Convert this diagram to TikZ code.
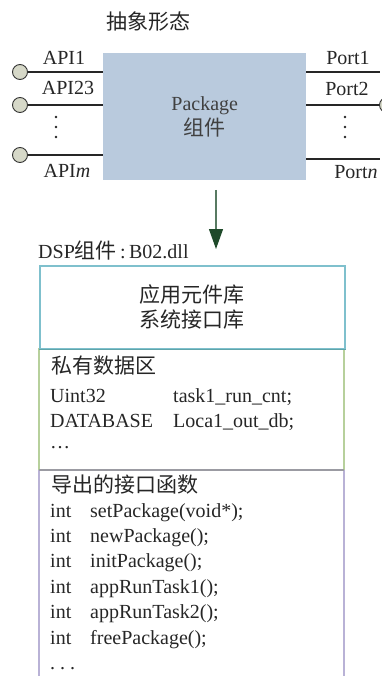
\documentclass[tikz,border=0pt]{standalone}
\usepackage{fontspec}
\setmainfont{Liberation Serif}
\newfontfamily\cjk[Scale=1.05]{Noto Sans CJK SC}
\usetikzlibrary{arrows.meta}

\definecolor{pkgblue}{RGB}{185,202,221}
\definecolor{pinfill}{RGB}{214,216,200}
\definecolor{shaftgreen}{RGB}{88,122,98}
\definecolor{headgreen}{RGB}{31,74,42}
\definecolor{libteal}{RGB}{127,192,205}
\definecolor{libtealdark}{RGB}{95,165,170}
\definecolor{datagreen}{RGB}{183,208,156}
\definecolor{funcpurple}{RGB}{185,178,214}
\definecolor{splitgray}{RGB}{155,155,162}

\begin{document}
\begin{tikzpicture}[x=1pt, y=-1pt,
		every node/.style={font=\fontsize{20}{25}\selectfont, text=black!85, inner sep=0pt},
		pin/.style={draw=black!80, circle, minimum size=15pt, fill=pinfill, line width=0.9pt},
		wire/.style={draw=black!85, line width=1.1pt},
		pkgbox/.style={fill=pkgblue, anchor=north west, minimum width=203pt, minimum height=127pt, align=center, text=black!75},
		arrow/.style={-{Triangle[length=20pt, width=14pt, color=headgreen]}, draw=shaftgreen, line width=1.2pt},
		libsec/.style={draw=libteal, line width=1.5pt, anchor=north west, minimum width=305pt, minimum height=83pt, align=center},
		codeline/.style={anchor=base west},
		label/.style={anchor=base}
	]
		\useasboundingbox (0,0) rectangle (382,676);

		% abstract form
		\node (title) at (148,22) {\cjk 抽象形态};
		\node[pkgbox] (pkg) at (103,53) {Package\\{\cjk 组件}};

		\node[pin] (api1pin) at (20,72) {};
		\node[pin] (api2pin) at (20,105) {};
		\node[pin] (apimpin) at (20,155) {};
		\node[pin] (port2pin) at (387,105) {};
		\coordinate (port1end) at (380,72);
		\coordinate (portnend) at (380,159);

		\draw[wire] (api1pin) -- (api1pin -| pkg.west);
		\draw[wire] (api2pin) -- (api2pin -| pkg.west);
		\draw[wire] (apimpin) -- (apimpin -| pkg.west);
		\draw[wire] (port1end -| pkg.east) -- (port1end);
		\draw[wire] (port2pin -| pkg.east) -- (port2pin);
		\draw[wire] (portnend -| pkg.east) -- (portnend);

		\node[label] (api1) at (64,65) {API1};
		\node[label] (api2) at (68,95) {API23};
		\node[label] (apim) at (67,178) {API\textit{m}};
		\node[label] (port1) at (348,65) {Port1};
		\node[label] (port2) at (347,96) {Port2};
		\node[label] (portn) at (356,179) {Port\textit{n}};
		\foreach \y in {117,127,137} {
			\fill[black!85] (56,\y) circle (1.3pt);
			\fill[black!85] (345,\y) circle (1.3pt);
		}

		% arrow down to the dll
		\coordinate (arrtop) at (216,190);
		\coordinate (arrtip) at (216,249);
		\draw[arrow] (arrtop) -- (arrtip);

		% DSP component
		\node[codeline] (dllname) at (38,258) {DSP{\cjk 组件}\,:\,B02.dll};
		\draw[funcpurple, line width=1.5pt] (39,470) -- (39,676) (344,470) -- (344,676);
		\draw[datagreen, line width=1.5pt] (39,348) -- (39,470) (344,348) -- (344,470);
		\draw[splitgray, line width=1.5pt] (39,470) -- (344,470);
		\node[libsec] (libs) at (39,265) {{\cjk 应用元件库}\\{\cjk 系统接口库}};
		\draw[libtealdark, line width=1.5pt] (libs.south west) -- (libs.south east);

		\node[codeline] (datahead) at (51,373.5) {\cjk 私有数据区};
		\node[codeline] (type1) at (50,402) {Uint32};
		\node[codeline] (var1) at (173,402) {task1\_run\_cnt;};
		\node[codeline] (type2) at (50,427.5) {DATABASE};
		\node[codeline] (var2) at (173,427.5) {Loca1\_out\_db;};
		\node[codeline] (datamore) at (50,448) {…};

		\node[codeline] (funchead) at (51,492.5) {\cjk 导出的接口函数};
		\foreach \fn [count=\i] in {setPackage(void*);,newPackage();,initPackage();,appRunTask1();,appRunTask2();,freePackage();} {
			\node[codeline] (int\i) at (50,{491.6+25.4*\i}) {int};
			\node[codeline] (fn\i) at (90,{491.6+25.4*\i}) {\fn};
		}
		\node[codeline] (funcmore) at (50,669) {.\ .\ .};
	\end{tikzpicture}
\end{document}
